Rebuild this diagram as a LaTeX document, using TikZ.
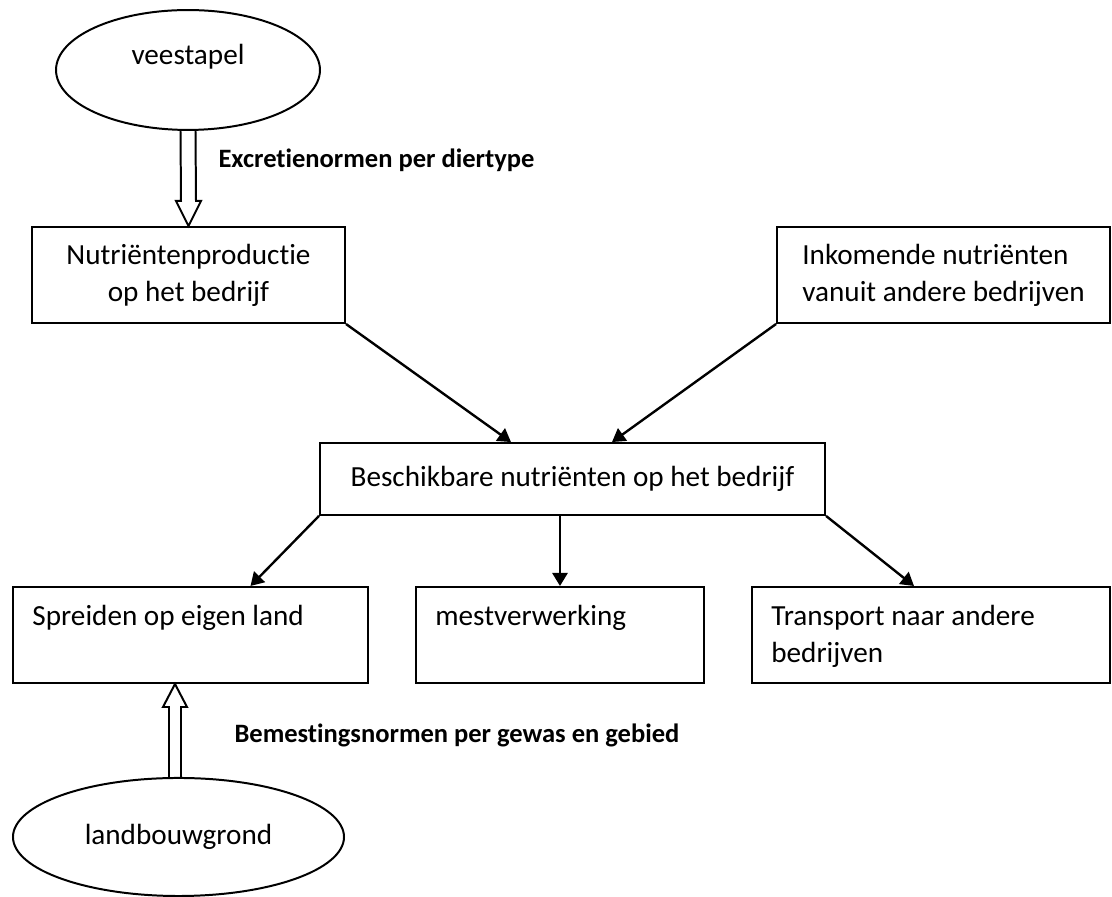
\documentclass[tikz,border=0pt]{standalone}
\usepackage{fontspec}
\setmainfont{Carlito}[Ligatures=NoCommon]
\usetikzlibrary{arrows.meta, positioning, shapes.geometric, calc}

\begin{document}
\begin{tikzpicture}[x=0.377pt, y=-0.377pt, font=\fontsize{11}{14}\selectfont,
        box/.style={draw, line width=0.75pt, rectangle, inner sep=0pt},
        oval/.style={draw, line width=0.75pt, ellipse, inner sep=0pt},
        arr/.style={-{Triangle[length=4.9pt, width=5.7pt]}, line width=0.9pt},
        hollow/.style={draw, line width=0.75pt, line join=miter},
        intext/.style={anchor=north west, inner xsep=7.5pt, inner ysep=7pt, align=left},
        norm/.style={font=\bfseries\fontsize{10}{12}\selectfont, inner sep=0pt, anchor=west}]
        \useasboundingbox (0,0) rectangle (1112,897);

        \node[oval, minimum width=99.5pt, minimum height=45.2pt, text height=7pt, text depth=10.8pt] (vee) at (188,70) {veestapel};
        \node[box, minimum width=118pt, minimum height=36.2pt, align=center] (prod) at (188.5,275) {Nutriëntenproductie\\op het bedrijf};
        \node[box, minimum width=125.5pt, minimum height=36.2pt, align=left] (inc) at (943.5,275) {Inkomende nutriënten\\vanuit andere bedrijven};
        \node[box, minimum width=190.4pt, minimum height=27.1pt] (besch) at (572.5,479) {Beschikbare nutriënten op het bedrijf};

        \node[box, minimum width=133.8pt, minimum height=36.2pt, label={[intext]north west:Spreiden op eigen land}] (spread) at (190.5,635) {};
        \node[box, minimum width=108.6pt, minimum height=36.2pt, label={[intext]north west:mestverwerking}] (mest) at (560,635) {};
        \node[box, minimum width=135pt, minimum height=36.2pt, label={[intext]north west:{Transport naar andere\\bedrijven}}] (trans) at (931,635) {};

        \node[oval, minimum width=124.8pt, minimum height=44.5pt] (land) at (178.5,837) {landbouwgrond};

        % hollow arrows for the norms
        \draw[hollow] ($(vee.south)+(-7.5,0)$) -- ($(prod.north)+(-7.5,-25)$) -- ($(prod.north)+(-12.5,-25)$) -- (prod.north)
            -- ($(prod.north)+(12.5,-25)$) -- ($(prod.north)+(7.5,-25)$) -- ($(vee.south)+(7.5,0)$);
        \node[norm] (excr) at (218,160) {Excretienormen per diertype};

        \draw[hollow] ($(land.north)+(-9.5,0)$) -- ($(spread.south)+(-21.5,23)$) -- ($(spread.south)+(-27.5,23)$) -- ($(spread.south)+(-15.5,0)$)
            -- ($(spread.south)+(-3.5,23)$) -- ($(spread.south)+(-9.5,23)$) -- ($(land.north)+(2.5,0)$);
        \node[norm] (bem) at (234,735) {Bemestingsnormen per gewas en gebied};

        \draw[arr] (prod.south east) -- ($(besch.north)+(-61.5,0)$);
        \draw[arr] (inc.south west) -- ($(besch.north)+(39.5,0)$);
        \draw[arr] (besch.south west) -- ($(spread.north)+(60,0)$);
        \draw[arr] (besch.south -| mest.north) -- (mest.north);
        \draw[arr] (besch.south east) -- ($(trans.north)+(-17,0)$);
    \end{tikzpicture}
\end{document}
